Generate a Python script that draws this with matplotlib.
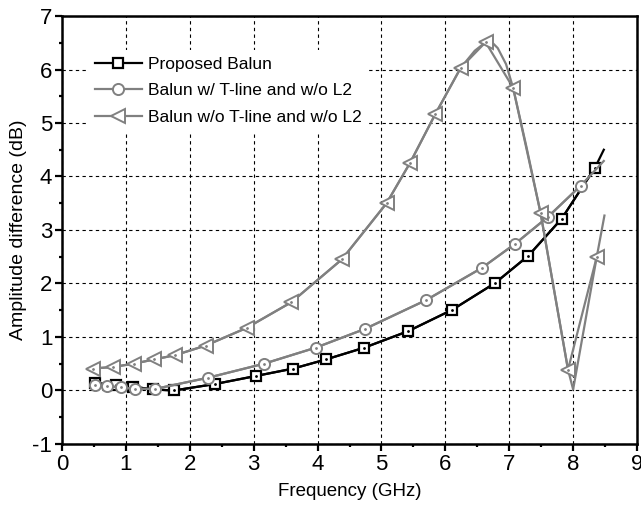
import matplotlib
matplotlib.use("Agg")
import matplotlib.pyplot as plt
from   matplotlib.ticker import MultipleLocator
from   matplotlib import font_manager

#-------------------------------------------------
# data
#-------------------------------------------------
# Proposed Balun (markers)
sq_f    = [0.52, 0.84, 1.11, 1.43, 1.75, 2.39, 3.03, 3.62, 4.13, 4.73, 5.42, 6.11, 6.78, 7.30, 7.82, 8.34]
sq_db   = [0.14, 0.10, 0.07, 0.02, 0.00, 0.12, 0.27, 0.41, 0.58, 0.80, 1.11, 1.51, 2.01, 2.52, 3.21, 4.16]
# line continues a bit past the last marker
sq_end  = (8.48, 4.50)

# Balun w/ T-line and w/o L2
ci_f    = [0.52, 0.71, 0.92, 1.14, 1.46, 2.29, 3.16, 3.97, 4.74, 5.70, 6.57, 7.09, 7.61, 8.12]
ci_db   = [0.11, 0.08, 0.06, 0.03, 0.03, 0.24, 0.50, 0.80, 1.15, 1.69, 2.29, 2.74, 3.25, 3.83]
ci_end  = (8.48, 4.29)

# Balun w/o T-line and w/o L2 (markers)
tri_f   = [0.48, 0.80, 1.12, 1.44, 1.77, 2.25, 2.89, 3.59, 4.38, 5.08, 5.45, 5.84, 6.24, 6.63, 7.06, 7.49, 7.92, 8.37]
tri_db  = [0.41, 0.44, 0.50, 0.58, 0.66, 0.84, 1.17, 1.65, 2.45, 3.50, 4.26, 5.16, 6.03, 6.51, 5.66, 3.32, 0.39, 2.50]
# the curve itself (extra vertices around the peak and the dip)
tri_line_f  = [0.48, 0.80, 1.12, 1.44, 1.77, 2.25, 2.89, 3.59, 4.38, 5.08, 5.45, 5.84, 6.24, 6.46, 6.63, 6.72, 6.82, 6.95, 7.06, 7.27, 7.49, 7.92, 8.00, 8.37, 8.49]
tri_line_db = [0.41, 0.44, 0.50, 0.58, 0.66, 0.84, 1.17, 1.65, 2.45, 3.50, 4.26, 5.16, 6.03, 6.35, 6.51, 6.52, 6.40, 6.10, 5.66, 4.55, 3.32, 0.39, 0.02, 2.50, 3.27]

labels  = ["Proposed Balun", "Balun w/ T-line and w/o L2", "Balun w/o T-line and w/o L2"]

#-------------------------------------------------
# style
#-------------------------------------------------
names = [f.name for f in font_manager.fontManager.ttflist]
fam   = "Liberation Sans" if "Liberation Sans" in names else "DejaVu Sans"
plt.rcParams['font.family']        = [fam, 'DejaVu Sans']
plt.rcParams['axes.unicode_minus'] = False

gray  = '#808080'
black = '#000000'

fig = plt.figure(figsize=(6.41, 5.08), dpi=100)
ax  = fig.add_axes([0.0967, 0.126, 0.8971, 0.8425])

# proposed
ax.plot(list(sq_f) + [sq_end[0]], list(sq_db) + [sq_end[1]], color=black, lw=1.6, zorder=3)
h1, = ax.plot(sq_f, sq_db, marker='s', ls='-', color=black, lw=1.6, ms=7, mew=1.6,
              mfc='white', mec=black, zorder=4)
ax.plot(sq_f, sq_db, marker='.', ls='', ms=2, color=black, zorder=5)

# w/ T-line
ax.plot(list(ci_f) + [ci_end[0]], list(ci_db) + [ci_end[1]], color=gray, lw=1.6, zorder=6)
h2, = ax.plot(ci_f, ci_db, marker='o', ls='-', color=gray, lw=1.6, ms=8, mew=1.4,
              mfc='white', mec=gray, zorder=7)
ax.plot(ci_f, ci_db, marker='.', ls='', ms=2, color=gray, zorder=8)

# w/o T-line
ax.plot(tri_line_f, tri_line_db, color=gray, lw=1.6, zorder=9)
h3, = ax.plot(tri_f, tri_db, marker='<', ls='-', color=gray, lw=1.6, ms=9.5, mew=1.4,
              mfc='white', mec=gray, zorder=10)
ax.plot(tri_f, tri_db, marker='.', ls='', ms=2, color=gray, zorder=11)

ax.set_xlim(0, 9)
ax.set_ylim(-1, 7)
ax.xaxis.set_major_locator(MultipleLocator(1))
ax.xaxis.set_minor_locator(MultipleLocator(0.5))
ax.yaxis.set_major_locator(MultipleLocator(1))
ax.yaxis.set_minor_locator(MultipleLocator(0.5))
ax.tick_params(which='major', direction='out', length=5, width=1.6, labelsize=16, pad=2)
ax.tick_params(which='minor', direction='out', length=2.5, width=1.6)
for s in ax.spines.values():
    s.set_linewidth(1.8)

ax.grid(True, which='major', color='black', ls=(0, (3, 3)), lw=0.8)
ax.set_axisbelow(True)

ax.set_xlabel('Frequency (GHz)', fontsize=13.5, labelpad=6)
ax.set_ylabel('Amplitude difference (dB)', fontsize=14, labelpad=4)

leg = ax.legend([h1, h2, h3], labels, loc='upper left', bbox_to_anchor=(0.03, 0.941),
                fontsize=12.5, frameon=True, facecolor='white', edgecolor='none',
                framealpha=1, fancybox=False, handlelength=2.7, handletextpad=0.35,
                labelspacing=0.65, borderpad=0.4)
leg.set_zorder(20)

fig.savefig("out.png", dpi=100)
